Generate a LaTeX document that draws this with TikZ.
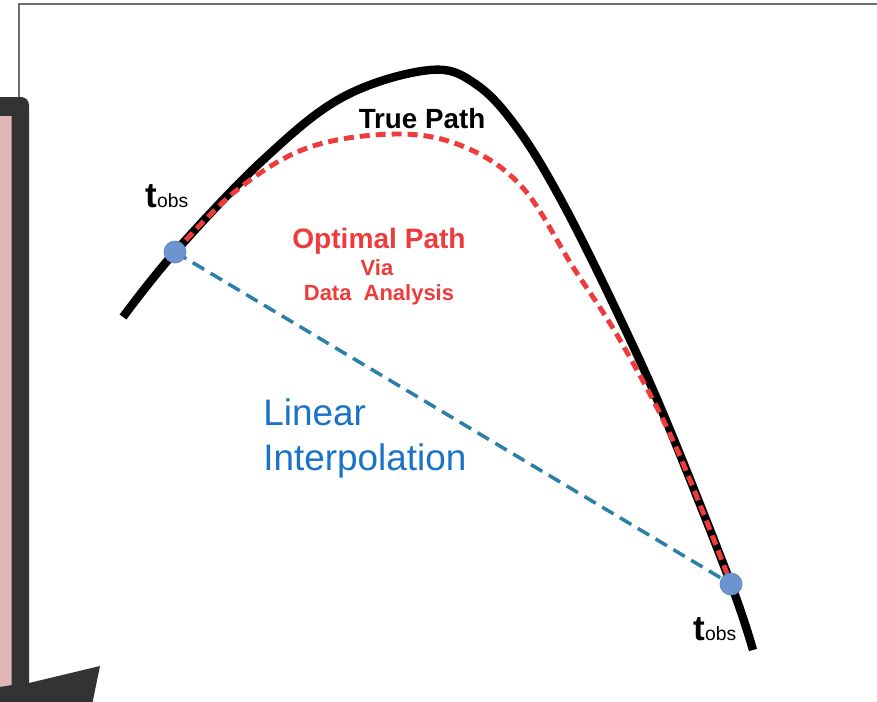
\documentclass[tikz,border=0pt]{standalone}
\usepackage{fontspec}
\setmainfont{Liberation Sans}
\usetikzlibrary{positioning}

\definecolor{framegray}{HTML}{6E6E6E}
\definecolor{paneldark}{HTML}{333333}
\definecolor{panelpink}{HTML}{E0B6B6}
\definecolor{optred}{HTML}{EE3B3B}
\definecolor{linblue}{HTML}{2B7FA8}
\definecolor{textblue}{HTML}{1A73C6}
\definecolor{ptfill}{HTML}{6C95D0}
\definecolor{ptdraw}{HTML}{5B85C2}

\begin{document}
\begin{tikzpicture}[
    x=0.02cm, y=-0.02cm,
    truepath/.style={line width=4.8pt, black, line cap=butt},
    optpath/.style={line width=2.8pt, optred, dash pattern=on 5.7pt off 3.4pt},
    linpath/.style={line width=2pt, linblue, dash pattern=on 7.5pt off 4.3pt},
    obspt/.style={circle, fill=ptfill, draw=ptdraw, line width=0.4pt, minimum size=0.44cm, inner sep=0pt},
    obslabel/.style={anchor=base west, inner sep=0pt},
    title/.style={anchor=base, inner sep=0pt, font=\bfseries\fontsize{15.8}{18}\selectfont}
]
\useasboundingbox (0,0) rectangle (877,701);

% frame and side panel
\begin{scope}
\clip (0,0) rectangle (877,701);
\draw[framegray, line width=1pt] (19,100) -- (19,4) -- (880,4);
\fill[paneldark] (-20,97) -- (21,97) arc[start angle=90, end angle=0, x radius=8, y radius=-8]
    -- (29,683) -- (100,666) -- (92,705) -- (-20,705) -- cycle;
\fill[panelpink] (-20,116) -- (11.7,116) -- (11.7,685) -- (-20,690) -- cycle;
\end{scope}

% observation points
\coordinate (obs1) at (175,252);
\coordinate (obs2) at (731,584);

% paths
\draw[truepath] plot[smooth, tension=0.6] coordinates {(123,317) (obs1) (263,160) (343,97) (430,70) (477,85) (520,132) (567,211) (627,333) (670,430) (obs2) (753,650)};
\draw[optpath] plot[smooth, tension=0.6] coordinates {(obs1) (237,190) (310,147) (400,134) (467,148) (523,188) (573,267) (620,340) (675,445) (obs2)};
\draw[linpath] (obs1) -- (obs2);

\node[obspt] (p1) at (obs1) {};
\node[obspt] (p2) at (obs2) {};

% labels
\node[obslabel] (t1) at (145,207) {\fontsize{20}{22}\selectfont\bfseries t\fontsize{11}{12}\mdseries\selectfont obs};
\node[obslabel] (t2) at (693,640) {\fontsize{20}{22}\selectfont\bfseries t\fontsize{11}{12}\mdseries\selectfont obs};

\node[title] (truelbl) at (422,128) {True Path};
\node[title, optred, font=\bfseries\fontsize{16}{18}\selectfont] (optlbl) at (379,248) {Optimal Path};
\node[anchor=base, inner sep=0pt, optred, font=\bfseries\fontsize{12.5}{14}\selectfont] (vialbl) at (377,275) {Via};
\node[anchor=base, inner sep=0pt, optred, font=\bfseries\fontsize{12.5}{14}\selectfont] (datalbl) at (379,300) {Data\ \ Analysis};

\node[anchor=base west, inner sep=0pt, textblue, font=\fontsize{21}{25.6}\selectfont, align=left] (linlbl) at (263,470) {Linear\\Interpolation};

\end{tikzpicture}
\end{document}
